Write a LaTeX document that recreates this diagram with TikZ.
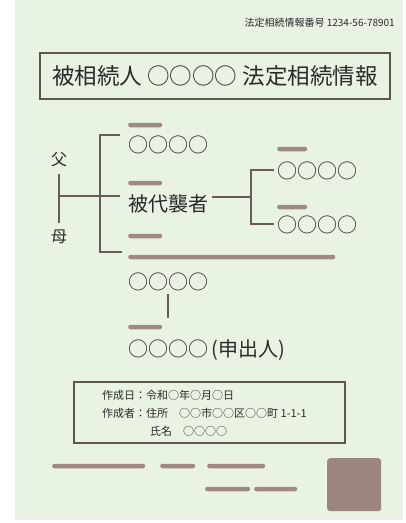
\documentclass[tikz,border=0pt]{standalone}
\usepackage{fontspec}
\setmainfont{Noto Sans CJK JP}
\definecolor{paper}{RGB}{232,243,228}
\definecolor{ink}{RGB}{42,42,42}
\definecolor{redact}{RGB}{160,136,131}
\definecolor{stampc}{RGB}{156,133,128}
\definecolor{linec}{RGB}{105,92,88}
\definecolor{boxc}{RGB}{95,86,82}
\newcommand\nmfont{\fontsize{20}{24}\selectfont}
\newcommand\infofont{\fontsize{11}{13}\selectfont}
\begin{document}
\begin{tikzpicture}[x=1pt,y=-1pt,
  txt/.style={inner sep=0pt, text=ink},
  bar/.style={fill=redact, rounded corners=2.2pt, minimum height=4.5pt, inner sep=0pt, anchor=west},
  tree/.style={draw=linec, line width=1.5pt},
  frame/.style={draw=boxc, line width=2.2pt},
]
\useasboundingbox (0,0) rectangle (406,523);
\fill[white] (0,0) rectangle (406,523);
\fill[paper] (15,0) rectangle (403,520);

\node[txt, anchor=east, font=\fontsize{10}{12}\selectfont] (num) at (395,23) {法定相続情報番号 1234-56-78901};

\node[frame, minimum width=350pt, minimum height=46pt, text=ink,
  font=\fontsize{22.5}{26}\selectfont] (title) at (215,76) {被相続人 ○○○○ 法定相続情報};

% tree
\node[txt, font=\fontsize{16}{18}\selectfont] (fa) at (59,160) {父};
\node[txt, font=\fontsize{16}{18}\selectfont] (mo) at (59,237) {母};
\node[bar, minimum width=34pt] (b1) at (128,125) {};
\node[txt, anchor=west, font=\nmfont] (c1) at (128,145) {○○○○};
\node[bar, minimum width=34pt] (b2) at (128,183) {};
\node[txt, anchor=west, font=\nmfont] (dai) at (128,204) {被代襲者};
\node[bar, minimum width=34pt] (b3) at (128,236) {};
\node[bar, minimum width=207pt] (b4) at (128,257) {};
\node[bar, minimum width=30pt] (rb1) at (277,149) {};
\node[txt, anchor=west, font=\nmfont] (r1) at (277,171) {○○○○};
\node[bar, minimum width=30pt] (rb2) at (277,207) {};
\node[txt, anchor=west, font=\nmfont] (r2) at (277,225) {○○○○};
\node[txt, anchor=west, font=\nmfont] (g1) at (128,282) {○○○○};
\node[bar, minimum width=34pt] (b5) at (128,327) {};
\node[txt, anchor=west, font=\nmfont] (g2) at (128,350) {○○○○\,(申出人)};

\coordinate (pj) at (60,196);
\coordinate (lbt) at (100,135);
\coordinate (lbb) at (100,252);
\coordinate (rm) at (251,197);
\coordinate (rbt) at (251,170);
\coordinate (rbb) at (251,224);

\draw[tree, shorten <=7pt, shorten >=7pt] (fa) -- (mo);
\draw[tree, shorten >=8pt] (pj) -- (pj -| dai.west);
\draw[tree] ([xshift=-8pt]c1.west |- lbt) -- (lbt) -- (lbb) -- ([xshift=-6pt]b4.west |- lbb);
\draw[tree, shorten <=4pt] (rm -| dai.east) -- (rm);
\draw[tree] ([xshift=-3pt]r1.west |- rbt) -- (rbt) -- (rbb) -- ([xshift=-3pt]r2.west |- rbb);
\draw[tree, line width=1.8pt, shorten <=3pt, shorten >=7pt] (g1.south) -- (g1.south |- b5.north);

% info box
\node[frame, line width=2pt, minimum width=271pt, minimum height=61pt] (info) at (209.5,412.5) {};
\node[txt, anchor=west, font=\infofont] (l1) at (102,395) {作成日：令和○年○月○日};
\node[txt, anchor=west, font=\infofont] (l2) at (102,413) {作成者：住所\quad ○○市○○区○○町 1-1-1};
\node[txt, anchor=west, font=\infofont] (l3) at (150,431) {氏名\quad ○○○○};

% bottom redactions and stamp
\node[bar, minimum width=93pt] (x1) at (52,466) {};
\node[bar, minimum width=35pt] (x2) at (160,466) {};
\node[bar, minimum width=58pt] (x3) at (207,466) {};
\node[bar, minimum width=45pt] (y1) at (205,489) {};
\node[bar, minimum width=43pt] (y2) at (254,489) {};
\node[fill=stampc, rounded corners=3pt, minimum width=54pt, minimum height=53pt, anchor=north west, inner sep=0pt] (stamp) at (327,458) {};
\end{tikzpicture}
\end{document}
